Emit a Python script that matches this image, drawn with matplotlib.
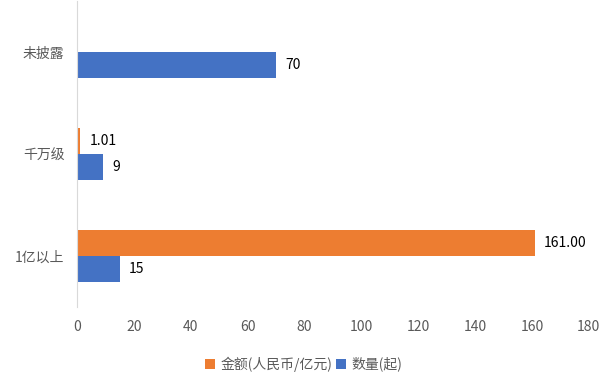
import numpy as np
import matplotlib.pyplot as plt

plt.rcParams['font.family'] = ['Noto Sans CJK SC', 'DejaVu Sans']

categories = ['1亿以上', '千万级', '未披露']
amount = [161.00, 1.01, None]
amount_labels = ['161.00', '1.01', '']
count = [15, 9, 70]
count_labels = ['15', '9', '70']

orange = '#ED7D31'
blue = '#4472C4'

fig = plt.figure(figsize=(6.12, 3.84), dpi=100)
ax = fig.add_axes([0.126, 0.2005, 0.836, 0.7965])

y = np.arange(len(categories))
h = 0.255

amt_vals = [v if v is not None else 0 for v in amount]
b1 = ax.barh(y + h / 2, amt_vals, height=h, color=orange, label='金额(人民币/亿元)')
b2 = ax.barh(y - h / 2, count, height=h, color=blue, label='数量(起)')

for rect, lab in zip(b1, amount_labels):
    if lab:
        ax.text(rect.get_width() + 3.3, rect.get_y() + rect.get_height() / 2, lab,
                va='center', ha='left', fontsize=10, color='#000000')
for rect, lab in zip(b2, count_labels):
    ax.text(rect.get_width() + 3.3, rect.get_y() + rect.get_height() / 2, lab,
            va='center', ha='left', fontsize=10, color='#000000')

ax.set_xlim(0, 180)
ax.set_ylim(-0.5, 2.5)
ax.set_xticks(np.arange(0, 181, 20))
ax.set_yticks(y)
ax.set_yticklabels(categories)
ax.tick_params(axis='both', length=0, labelsize=10, colors='#595959')
ax.tick_params(axis='x', pad=9)
ax.tick_params(axis='y', pad=9)

for s in ['top', 'right', 'bottom']:
    ax.spines[s].set_visible(False)
ax.spines['left'].set_color('#D9D9D9')

fig.legend(loc='center', bbox_to_anchor=(0.496, 0.052), ncol=2, frameon=False,
           fontsize=10, handlelength=0.7, handleheight=0.7, handletextpad=0.4,
           columnspacing=0.3, labelcolor='#595959')

fig.savefig('out.png', dpi=100)
